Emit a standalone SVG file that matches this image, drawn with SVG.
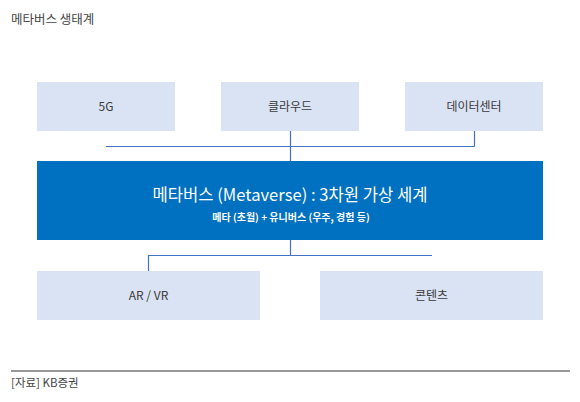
<svg xmlns="http://www.w3.org/2000/svg" width="580" height="402" viewBox="0 0 580 402">
<style>
text{font-family:"Noto Sans CJK KR","Noto Sans",sans-serif}
.box{fill:#dae3f3}
.lbl{font-size:12px;fill:#3a3a3a;text-anchor:middle}
.conn{stroke:#4472c4;stroke-width:1.2;fill:none}
.main{fill:#0070c0}
.mt{font-size:16.6px;fill:#ffffff;text-anchor:middle}
.st{font-size:10px;fill:#ffffff;text-anchor:middle;font-weight:bold}
.cap{font-size:12px;fill:#444}
</style>
<rect width="580" height="402" fill="#ffffff"/>
<text class="cap" x="11" y="24" style="font-size:12.5px">메타버스 생태계</text>
<g id="connectors">
<path class="conn" d="M106 146.5H474.5M290.5 131V161M474.5 131V146.5"/>
<path class="conn" d="M290.5 240V255.5M148 255.5H432M148.5 255V271"/>
</g>
<g id="n5g"><rect class="box" x="37" y="82" width="138" height="49"/><text class="lbl" x="106" y="111">5G</text></g>
<g id="ncloud"><rect class="box" x="221" y="82" width="138" height="49"/><text class="lbl" x="290" y="111">클라우드</text></g>
<g id="ndc"><rect class="box" x="405" y="82" width="138" height="49"/><text class="lbl" x="474" y="111">데이터센터</text></g>
<g id="nmeta"><rect class="main" x="37" y="161" width="506" height="79"/>
<text class="mt" x="290" y="201">메타버스 (Metaverse) : 3차원 가상 세계</text>
<text class="st" x="291" y="221">메타 (초월) + 유니버스 (우주, 경험 등)</text></g>
<g id="narvr"><rect class="box" x="37" y="271" width="223" height="49"/><text class="lbl" x="148.5" y="300">AR / VR</text></g>
<g id="ncontent"><rect class="box" x="320" y="271" width="223" height="49"/><text class="lbl" x="431.5" y="300">콘텐츠</text></g>
<line x1="11" y1="371" x2="570" y2="371" stroke="#333" stroke-width="1"/>
<text class="cap" x="11" y="387" style="font-size:11.5px">[자료] KB증권</text>
</svg>
